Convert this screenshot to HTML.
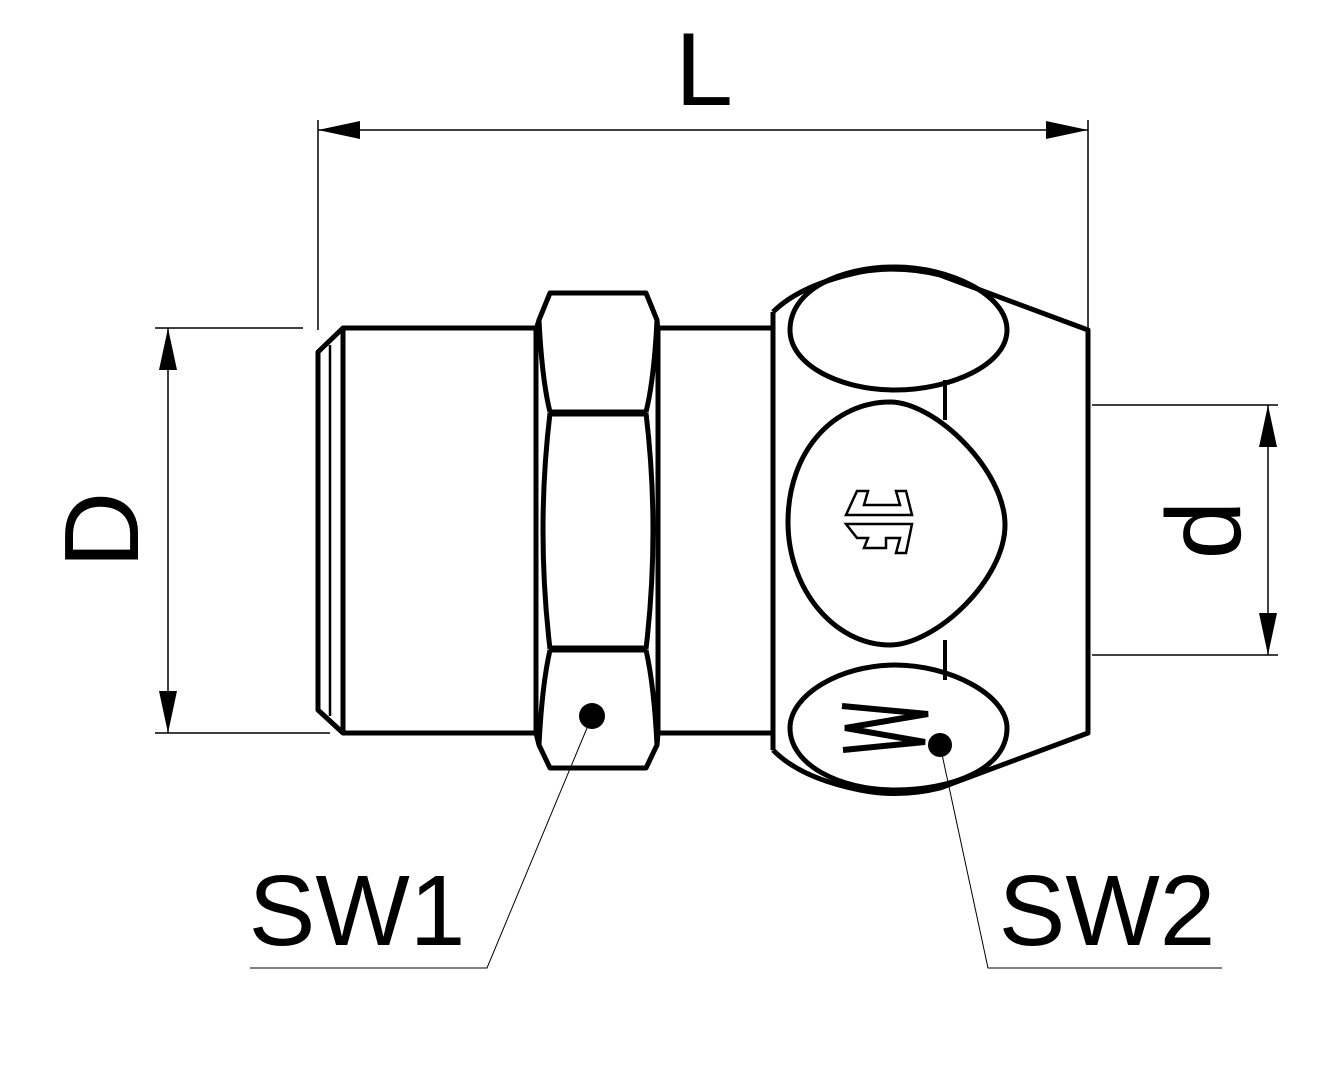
<!DOCTYPE html>
<html><head><meta charset="utf-8"><style>
html,body{margin:0;padding:0;background:#fff;}
svg{display:block;}
text{font-family:"Liberation Sans",sans-serif;fill:#000;}
</style></head><body>
<svg width="1323" height="1080" viewBox="0 0 1323 1080" xmlns="http://www.w3.org/2000/svg">
<g fill="none" stroke="#000">
<line x1="318" y1="120" x2="318" y2="330" stroke-width="1.5"/>
<line x1="1088" y1="120" x2="1088" y2="328" stroke-width="1.5"/>
<line x1="318" y1="130" x2="1088" y2="130" stroke-width="1.5"/>
<line x1="155" y1="328" x2="303" y2="328" stroke-width="1.5"/>
<line x1="155" y1="733" x2="330" y2="733" stroke-width="1.5"/>
<line x1="168" y1="328" x2="168" y2="733" stroke-width="1.5"/>
<line x1="1092" y1="405" x2="1278" y2="405" stroke-width="1.5"/>
<line x1="1092" y1="655" x2="1278" y2="655" stroke-width="1.5"/>
<line x1="1268" y1="405" x2="1268" y2="655" stroke-width="1.5"/>
<polyline points="592,716 487,968 250,968" stroke-width="1"/>
<polyline points="940,745 988,968 1222,968" stroke-width="1"/>

<g stroke-width="5" stroke-linejoin="round">
<path d="M536,328 H343 L318,352 V710 L343,733 H536"/>
<line x1="343" y1="328" x2="343" y2="733"/>
<line x1="330" y1="345" x2="330" y2="716" stroke-width="2.5"/>
<line x1="660" y1="328" x2="773" y2="328"/>
<line x1="660" y1="733" x2="773" y2="733"/>
<path d="M550,293 H646 L657,320 L658,330 V733 L657,745 L646,768 H550 L539,745 L536,733 V330 L539,320 Z"/>
<path d="M539,320 Q542,380 550,412 M657,320 Q654,380 646,412"/>
<path d="M539,745 Q542,685 550,650 M657,745 Q654,685 646,650"/>
<path d="M550,413 Q536,530 550,649 M646,413 Q660,530 646,649"/>
<line x1="549" y1="413" x2="647" y2="413" stroke-width="7"/>
<line x1="549" y1="649" x2="647" y2="649" stroke-width="7"/>
<path d="M773,312 V750"/>
<path d="M773,312 Q800,285 860,272 Q900,265 940,275 L1088,330 V733 L940,788 Q900,798 860,790 Q800,778 773,750"/>
<line x1="945" y1="380" x2="945" y2="420" stroke-width="4"/>
<line x1="945" y1="640" x2="945" y2="680" stroke-width="4"/>
<path d="M790,330 C790,290 840,267 895,267 C950,267 1007,295 1007,330 C1007,365 950,390 895,390 C840,390 790,365 790,330 Z"/>
<path d="M788,522 C788,450 835,402 890,402 C935,402 1005,470 1005,525 C1005,580 935,645 890,645 C835,645 788,590 788,522 Z"/>
<path d="M790,728 C790,695 840,665 895,665 C950,665 1007,695 1007,728 C1007,770 950,790 895,790 C840,790 790,765 790,728 Z"/>
</g>
<g stroke-width="2.5">
<path d="M857,491 H868 L864,505 H900 L896,491 H906 L912,515 H846 Z"/>
<path d="M846,524 H912 L906,553 H896 L900,538 H886 V548 H864 L868,538 H857 Z"/>
</g>
<path d="M842,706 L928,714 L845,728 L925,742 L843,750" stroke-width="6"/>
</g>
<g fill="#000">
<polygon points="318,130 360,121 360,139"/>
<polygon points="1088,130 1046,121 1046,139"/>
<polygon points="168,328 159,370 177,370"/>
<polygon points="168,733 159,691 177,691"/>
<polygon points="1268,405 1259,447 1277,447"/>
<polygon points="1268,655 1259,613 1277,613"/>
<circle cx="592" cy="716" r="13"/>
<circle cx="940" cy="745" r="12"/>
</g>
<text x="704" y="105" font-size="104" text-anchor="middle">L</text>
<text transform="translate(138,530) rotate(-90)" font-size="106" text-anchor="middle">D</text>
<text transform="translate(1240,530) rotate(-90)" font-size="106" text-anchor="middle">d</text>
<text x="357" y="945" font-size="100" text-anchor="middle">SW1</text>
<text x="1107" y="945" font-size="100" text-anchor="middle">SW2</text>
</svg>
</body></html>
